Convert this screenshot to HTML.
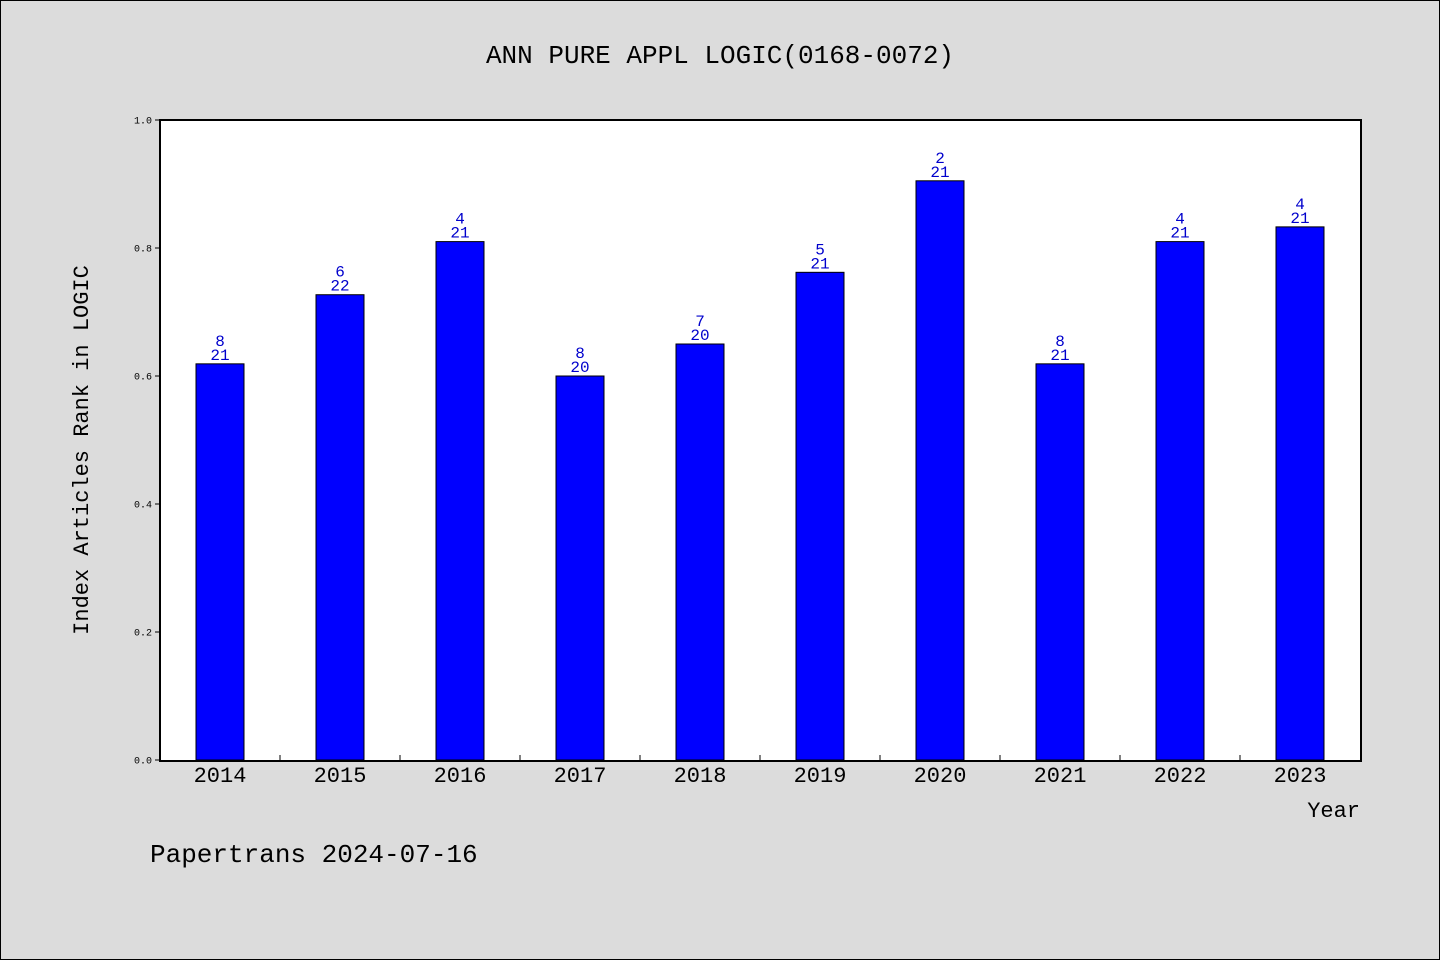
<!DOCTYPE html>
<html><head><meta charset="utf-8"><style>
body{margin:0;background:#dcdcdc;}
svg{display:block;font-family:"Liberation Mono","Noto Sans CJK SC",monospace;}
</style></head><body>
<svg id="chart" width="1440" height="960" xmlns="http://www.w3.org/2000/svg">
<rect x="0.5" y="0.5" width="1439" height="959" fill="#dcdcdc" stroke="#000"/>
<text x="720" y="63" text-anchor="middle" font-size="26">ANN PURE APPL LOGIC(0168-0072)</text>
<rect x="160" y="120" width="1201" height="641" fill="#fff" stroke="#000" stroke-width="2"/>
<g id="bars"></g>
<text transform="translate(88,450) rotate(-90)" text-anchor="middle" font-size="22">Index Articles Rank in LOGIC</text>
<text x="1360" y="817" text-anchor="end" font-size="22">Year</text>
<text x="150" y="862" font-size="26">Papertrans 2024-07-16</text>
</svg>
<script>
const years=["2014","2015","2016","2017","2018","2019","2020","2021","2022","2023"];
const values=[0.619,0.727,0.810,0.600,0.650,0.762,0.905,0.619,0.810,0.833];
const ranks=["8","6","4","8","7","5","2","8","4","4"];
const totals=["21","22","21","20","20","21","21","21","21","21"];
const yTicks=["0.0","0.2","0.4","0.6","0.8","1.0"];
const NS="http://www.w3.org/2000/svg";
const svg=document.getElementById('chart');
const g=document.getElementById('bars');
const x0=160,step=120,y0=760,h=640;
const xC=i=>x0+step*(i+0.5);
const yS=v=>y0-v*h;
function mk(t,a,p){const e=document.createElementNS(NS,t);for(const k in a)e.setAttribute(k,a[k]);(p||g).appendChild(e);return e;}
yTicks.forEach(t=>{
 const y=yS(parseFloat(t));
 const l=mk('line',{x1:155,x2:160,y1:y,y2:y,stroke:'#000'});
 
 
 const tx=mk('text',{x:152,y:y+3.5,'text-anchor':'end','font-size':10});
 tx.textContent=t;
 
 
});
years.forEach((yr,i)=>{
 const c=xC(i),v=values[i];
 const b=mk('rect',{x:c-24,y:yS(v),width:48,height:y0-yS(v),fill:'#0000ff',stroke:'#000'});
 
 
 if(i>0){const t=mk('line',{x1:x0+step*i,x2:x0+step*i,y1:755,y2:760,stroke:'#000'});
 
 }
 const xl=mk('text',{x:c,y:782,'text-anchor':'middle','font-size':22});
 xl.textContent=yr;
 
 
 const r=mk('text',{x:c,y:yS(v)-18,'text-anchor':'middle','font-size':16,fill:'#0000cc'});
 r.textContent=ranks[i];
 
 
 const tt=mk('text',{x:c,y:yS(v)-4,'text-anchor':'middle','font-size':16,fill:'#0000cc'});
 tt.textContent=totals[i];
 
 
});
</script>
</body></html>
